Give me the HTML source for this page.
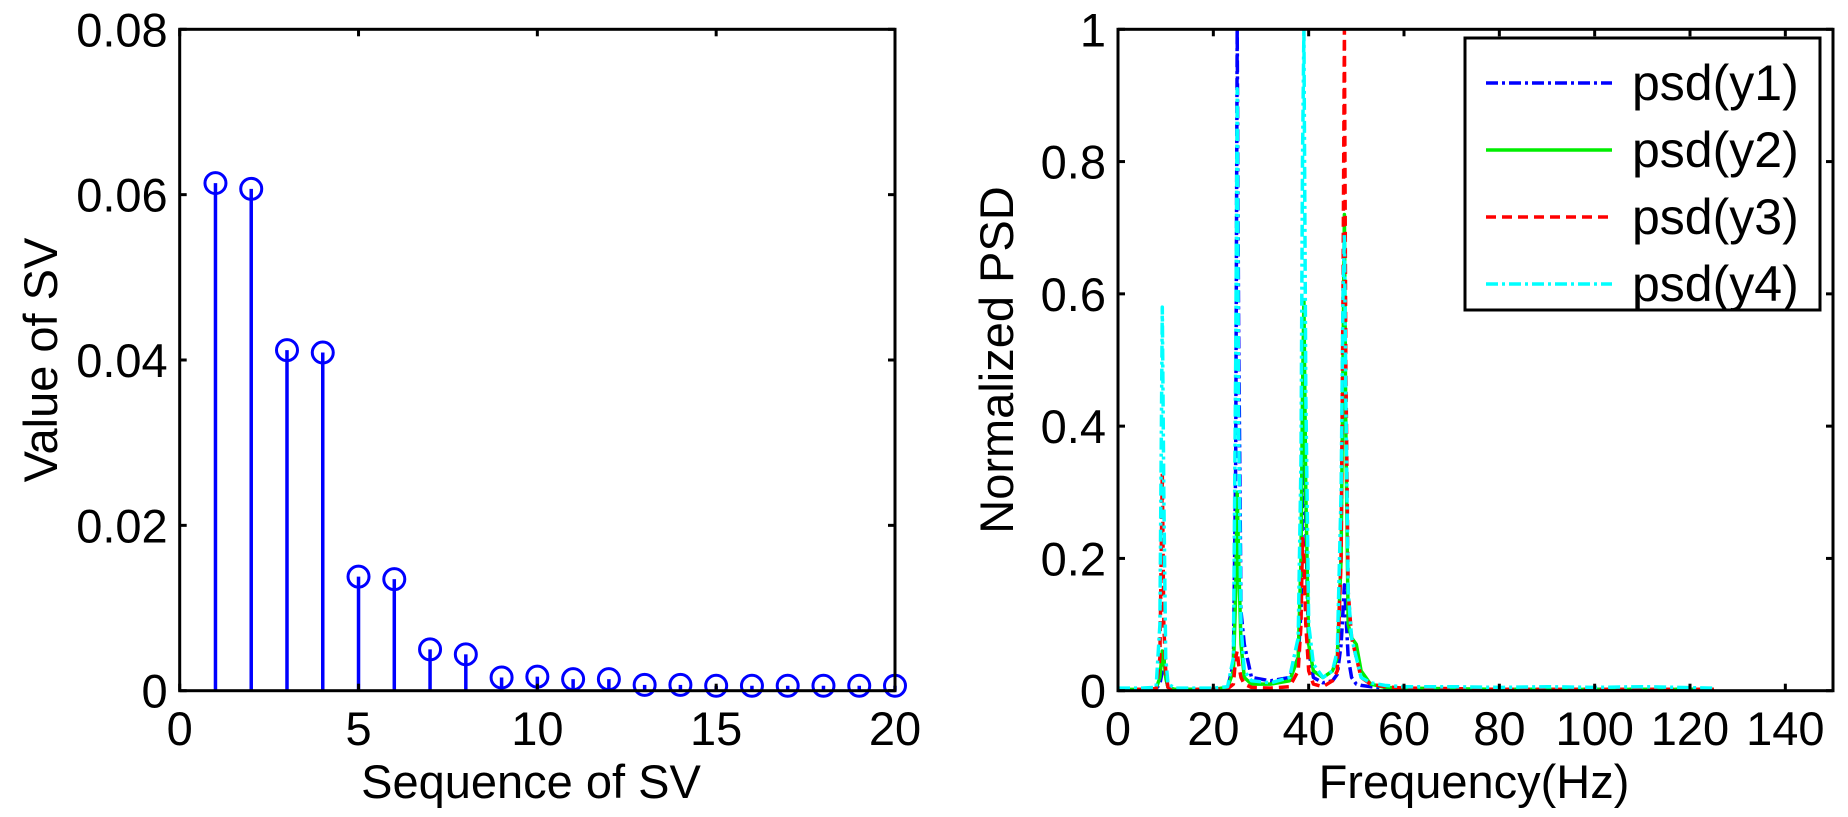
<!DOCTYPE html>
<html><head><meta charset="utf-8"><style>
html,body{margin:0;padding:0;background:#fff;}
svg{display:block;font-family:"Liberation Sans",Arial,sans-serif;}
</style></head><body>
<svg id="fig" width="1848" height="817" viewBox="0 0 1848 817"></svg>
<script>
// ---- Left chart data ----
const svSeq = [1,2,3,4,5,6,7,8,9,10,11,12,13,14,15,16,17,18,19,20];
const svVal = [0.0614,0.0607,0.0412,0.0409,0.0138,0.0135,0.0050,0.0044,0.0016,0.0017,0.0014,0.0014,0.0007,0.0007,0.0006,0.0006,0.0006,0.0006,0.0006,0.0006];
const leftXTicks = [0,5,10,15,20];
const leftYTicks = [0,0.02,0.04,0.06,0.08];
const leftYLabels = ["0","0.02","0.04","0.06","0.08"];
// ---- Right chart data ----
const freq = [0,5,8,8.8,9.3,9.6,10,10.5,12,20,23,24.2,24.7,25,25.3,25.8,26.5,28,32,36,37.8,38.4,38.7,39,39.4,40,41,43,45,46,46.8,47.2,47.5,47.8,48.3,49,50,51,53,56,60,70,80,90,100,110,125];
const psdY1 = [.002,.002,.003,.01,.03,.05,.02,.005,.002,.002,.005,.04,.35,1,.55,.12,.07,.02,.015,.02,.05,.12,.3,.5,.25,.06,.02,.012,.015,.025,.07,.12,.16,.12,.05,.02,.01,.008,.006,.004,.003,.002,.002,.002,.002,.002,.002];
const psdY2 = [.002,.002,.003,.02,.06,.05,.02,.005,.002,.002,.005,.03,.15,.3,.2,.07,.02,.01,.01,.015,.05,.2,.45,.59,.3,.07,.03,.02,.03,.05,.2,.5,.72,.4,.1,.08,.07,.03,.01,.005,.004,.003,.002,.002,.002,.002,.002];
const psdY3 = [.002,.002,.003,.05,.33,.1,.03,.005,.002,.002,.003,.01,.05,.06,.04,.02,.01,.005,.004,.006,.03,.1,.23,.2,.1,.03,.01,.006,.015,.03,.2,.6,1,.5,.15,.08,.05,.02,.01,.006,.004,.003,.002,.002,.002,.002,.002];
const psdY4 = [.004,.004,.005,.1,.58,.3,.05,.01,.004,.004,.006,.05,.5,.91,.4,.1,.03,.015,.012,.02,.08,.35,.8,1,.45,.1,.04,.02,.03,.06,.3,.6,.69,.45,.15,.08,.05,.02,.012,.008,.006,.006,.005,.006,.005,.006,.004];
const seriesNames = ["psd(y1)","psd(y2)","psd(y3)","psd(y4)"];
const rightXTicks = [0,20,40,60,80,100,120,140];
const rightYTicks = [0,0.2,0.4,0.6,0.8,1];
const rightYLabels = ["0","0.2","0.4","0.6","0.8","1"];

const NS="http://www.w3.org/2000/svg";
const svg=document.getElementById('fig');
function mk(tag,attrs,parent){const e=document.createElementNS(NS,tag);for(const k in attrs)e.setAttribute(k,attrs[k]);(parent||svg).appendChild(e);return e;}

const FS=47;
const yTop=29.3, yBot=690.7;
const L={x0:179.7,x1:895};
const lx=v=>L.x0+(v-0)/20*(L.x1-L.x0);
const ly=v=>yBot-(v/0.08)*(yBot-yTop);
const R={x0:1118,x1:1833};
const rx=v=>R.x0+(v/150)*(R.x1-R.x0);
const ry=v=>yBot-v*(yBot-yTop);

// Left stems
const gStem=mk('g',{});


svSeq.forEach((s,i)=>{
  const ln=mk('line',{x1:lx(s),x2:lx(s),y1:yBot,y2:ly(svVal[i]),stroke:'#0000ff','stroke-width':3.5},gStem);
  
  
  const c=mk('circle',{cx:lx(s),cy:ly(svVal[i]),r:10.5,fill:'none',stroke:'#0000ff','stroke-width':3},gStem);
  
  
});

// Right series
const colors=['#0000ff','#00ee00','#ff0000','#00ffff'];
const dashes=['12,4,3,4','none','10,6','12,4,3,4'];
const allSeries=[psdY1,psdY2,psdY3,psdY4];
const defs=mk('defs',{});
const clip=mk('clipPath',{id:'rc'},defs);
mk('rect',{x:R.x0,y:yTop,width:R.x1-R.x0,height:yBot-yTop},clip);
allSeries.forEach((arr,k)=>{
  const d=arr.map((v,i)=>(i?'L':'M')+rx(freq[i]).toFixed(1)+','+ry(v).toFixed(1)).join(' ');
  const p=mk('path',{d:d,fill:'none',stroke:colors[k],'stroke-width':3.5,'stroke-dasharray':dashes[k],'clip-path':'url(#rc)','stroke-linejoin':'round'});
  
  
});

function axes(x0,x1,xt,xf,yt,yf,ylabels,name){
  const g=mk('g',{});
  
  
  mk('rect',{x:x0,y:yTop,width:x1-x0,height:yBot-yTop,fill:'none',stroke:'#000','stroke-width':3},g);
  xt.forEach(v=>{
    const X=xf(v);
    mk('line',{x1:X,x2:X,y1:yBot,y2:yBot-7,stroke:'#000','stroke-width':3},g);
    mk('line',{x1:X,x2:X,y1:yTop,y2:yTop+7,stroke:'#000','stroke-width':3},g);
    const t=mk('text',{x:X,y:745,'font-size':FS,'text-anchor':'middle'},g);
    t.textContent=String(v);
    
    
  });
  yt.forEach((v,i)=>{
    const Y=yf(v);
    mk('line',{x1:x0,x2:x0+7,y1:Y,y2:Y,stroke:'#000','stroke-width':3},g);
    mk('line',{x1:x1,x2:x1-7,y1:Y,y2:Y,stroke:'#000','stroke-width':3},g);
    const t=mk('text',{x:x0-12,y:Y+17,'font-size':FS,'text-anchor':'end'},g);
    t.textContent=ylabels[i];
    
    
  });
}
axes(L.x0,L.x1,leftXTicks,lx,leftYTicks,ly,leftYLabels,'left-axes');
axes(R.x0,R.x1,rightXTicks,rx,rightYTicks,ry,rightYLabels,'right-axes');

function label(txt,x,y,rot,name){
  const a={x:x,y:y,'font-size':FS,'text-anchor':'middle'};
  if(rot)a.transform=`rotate(-90 ${x} ${y})`;
  const t=mk('text',a);
  t.textContent=txt;
  
  
}
label('Sequence of SV',531,798,false,'left-x-axis-title');
label('Frequency(Hz)',1474,798,false,'right-x-axis-title');
label('Value of SV',57,360,true,'left-y-axis-title');
label('Normalized PSD',1013,360,true,'right-y-axis-title');

const lg=mk('g',{});


mk('rect',{x:1465,y:38,width:355,height:272,fill:'#fff',stroke:'#000','stroke-width':3},lg);
const legY=[83,150,217,284];
seriesNames.forEach((n,k)=>{
  const e=mk('g',{},lg);
  
  
  mk('line',{x1:1486,x2:1612,y1:legY[k],y2:legY[k],stroke:colors[k],'stroke-width':3.5,'stroke-dasharray':dashes[k]},e);
  const t=mk('text',{x:1632,y:legY[k]+17,'font-size':50},e);
  t.textContent=n;
});
</script>
</body></html>
